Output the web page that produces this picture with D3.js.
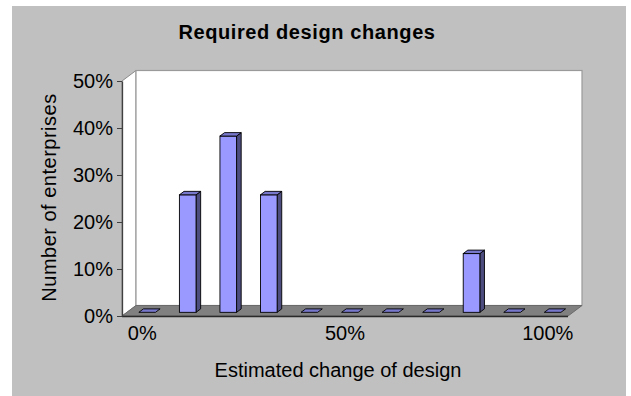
<!DOCTYPE html>
<html>
<head>
<meta charset="utf-8">
<script src="https://cdn.jsdelivr.net/npm/d3@7/dist/d3.min.js"></script>
<style>
  html, body { margin: 0; padding: 0; background: #ffffff; }
  svg { display: block; font-family: "Liberation Sans", Arial, sans-serif; }
</style>
</head>
<body>
<svg id="chart" width="631" height="396"></svg>
<script>
// Share of enterprises by estimated change of design
const categories = ["0%", "10%", "20%", "30%", "40%", "50%", "60%", "70%", "80%", "90%", "100%"];
const shares = [0, 0.25, 0.375, 0.25, 0, 0, 0, 0, 0.125, 0, 0];
const xTickLabels = ["0%", "50%", "100%"];
const yTicks = [0, 0.1, 0.2, 0.3, 0.4, 0.5];
const chartTitle = "Required design changes";
const xTitle = "Estimated change of design";
const yTitle = "Number of enterprises";

const svg = d3.select("#chart");

// Outer chart area
svg.append("rect")
  .attr("x", 12).attr("y", 6).attr("width", 614).attr("height", 390)
  .attr("fill", "#c0c0c0");

// Front plane of the 3D box and its depth offset
const plotLeft = 122, plotRight = 568, plotBottom = 316, plotTop = 81;
const depthX = 14, depthY = 10.5;

const x = d3.scaleBand().domain(categories).range([plotLeft, plotRight]).padding(0);
const y = d3.scaleLinear().domain([0, 0.5]).range([plotBottom, plotTop]);

const pt = (px, py) => px + "," + py;

// Side wall
svg.append("polygon")
  .attr("points", [pt(plotLeft, y(0.5)), pt(plotLeft + depthX, y(0.5) - depthY),
                   pt(plotLeft + depthX, plotBottom - depthY), pt(plotLeft, plotBottom)].join(" "))
  .attr("fill", "#ffffff").attr("stroke", "#8a8a8a").attr("stroke-width", 1);

// Back wall
svg.append("rect")
  .attr("x", plotLeft + depthX).attr("y", y(0.5) - depthY)
  .attr("width", plotRight - plotLeft).attr("height", plotBottom - y(0.5))
  .attr("fill", "#ffffff").attr("stroke", "#9a9a9a").attr("stroke-width", 1.2);

// Floor
svg.append("polygon")
  .attr("points", [pt(plotLeft, plotBottom), pt(plotLeft + depthX, plotBottom - depthY),
                   pt(plotRight + depthX, plotBottom - depthY), pt(plotRight, plotBottom)].join(" "))
  .attr("fill", "#808080").attr("stroke", "#6a6a6a").attr("stroke-width", 1);
svg.append("line")
  .attr("x1", plotLeft).attr("x2", plotRight).attr("y1", plotBottom + 0.5).attr("y2", plotBottom + 0.5)
  .attr("stroke", "#2a2a2a").attr("stroke-width", 1.6);

// Bars: front face sits partway into the depth
const f0 = 0.35, f1 = 0.68;
const barW = x.bandwidth() * 0.41;
const bdx = (f1 - f0) * depthX, bdy = (f1 - f0) * depthY;
const sx = f0 * depthX, sy = f0 * depthY;

const bars = svg.append("g").attr("class", "bars")
  .selectAll("g").data(categories.map((c, i) => ({ c, v: shares[i] })))
  .join("g");

bars.each(function(d) {
  const g = d3.select(this);
  const cx = x(d.c) + x.bandwidth() / 2 + sx;
  const x0 = cx - barW / 2, x1 = cx + barW / 2;
  const yb = y(0) - sy, yt = y(d.v) - sy;
  if (d.v > 0) {
    g.append("polygon")
      .attr("points", [pt(x1, yt), pt(x1 + bdx, yt - bdy), pt(x1 + bdx, yb - bdy), pt(x1, yb)].join(" "))
      .attr("fill", "#4d4d80").attr("stroke", "#000").attr("stroke-width", 0.9)
      .attr("stroke-linejoin", "round");
    g.append("rect")
      .attr("x", x0).attr("y", yt).attr("width", barW).attr("height", yb - yt)
      .attr("fill", "#9999ff").attr("stroke", "#000").attr("stroke-width", 0.9);
  }
  g.append("polygon")
    .attr("points", [pt(x0, yt), pt(x1, yt), pt(x1 + bdx, yt - bdy), pt(x0 + bdx, yt - bdy)].join(" "))
    .attr("fill", "#7777cc").attr("stroke", "#000").attr("stroke-width", 0.9)
    .attr("stroke-linejoin", "round");
});

// Value axis
const yAxis = svg.append("g")
  .attr("transform", `translate(${plotLeft},0)`)
  .call(d3.axisLeft(y).tickValues(yTicks).tickFormat(d3.format(".0%"))
        .tickSize(5).tickSizeOuter(0).tickPadding(4));
yAxis.select(".domain").attr("stroke", "#404040").attr("stroke-width", 1.3);
yAxis.selectAll(".tick line").attr("stroke", "#404040");
yAxis.selectAll(".tick text")
  .attr("fill", "#000").style("font-size", "20px")
  .style("font-family", "'Liberation Sans', Arial, sans-serif")
  .attr("dy", "0.34em");

// Category axis
const xAxis = svg.append("g")
  .attr("transform", `translate(0,${plotBottom})`)
  .call(d3.axisBottom(x).tickValues(xTickLabels).tickSize(0).tickPadding(10));
xAxis.select(".domain").remove();
xAxis.selectAll(".tick text")
  .attr("fill", "#000").style("font-size", "20px")
  .style("font-family", "'Liberation Sans', Arial, sans-serif")
  .attr("dy", "0.71em");

// Titles
svg.append("text")
  .attr("x", 307).attr("y", 38.5).attr("text-anchor", "middle")
  .style("font-size", "20px").style("font-weight", "bold").style("letter-spacing", "0.6px")
  .text(chartTitle);

svg.append("text")
  .attr("x", 338).attr("y", 377).attr("text-anchor", "middle")
  .style("font-size", "20px")
  .text(xTitle);

svg.append("text")
  .attr("transform", "translate(56,197.5) rotate(-90)").attr("text-anchor", "middle")
  .style("font-size", "20px").style("letter-spacing", "0.5px")
  .text(yTitle);
</script>
</body>
</html>
